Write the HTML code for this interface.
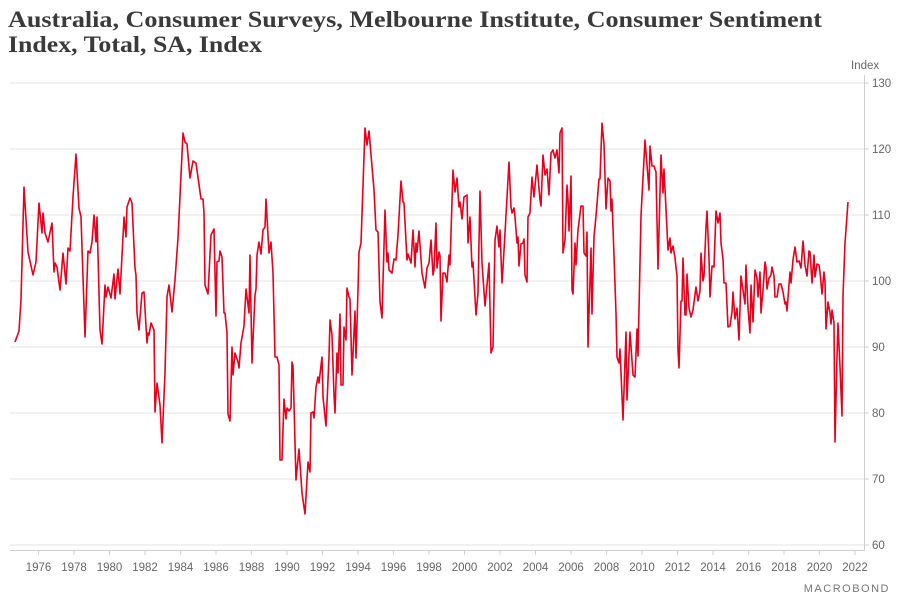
<!DOCTYPE html>
<html><head><meta charset="utf-8"><style>
html,body{margin:0;padding:0;background:#fff;}
svg{display:block;}
</style></head><body>
<svg width="899" height="603" xmlns="http://www.w3.org/2000/svg">
<text x="8" y="27" font-family="Liberation Serif, serif" font-weight="bold" font-size="23.5" fill="#3a3a3a" textLength="814" lengthAdjust="spacingAndGlyphs">Australia, Consumer Surveys, Melbourne Institute, Consumer Sentiment</text>
<text x="8" y="52" font-family="Liberation Serif, serif" font-weight="bold" font-size="23.5" fill="#3a3a3a" textLength="254" lengthAdjust="spacingAndGlyphs">Index, Total, SA, Index</text>
<g stroke="#e3e3e3" stroke-width="1">
<line x1="10" x2="864" y1="83" y2="83"/><line x1="10" x2="864" y1="149" y2="149"/><line x1="10" x2="864" y1="215" y2="215"/><line x1="10" x2="864" y1="281" y2="281"/><line x1="10" x2="864" y1="347" y2="347"/><line x1="10" x2="864" y1="413" y2="413"/><line x1="10" x2="864" y1="479" y2="479"/><line x1="10" x2="864" y1="545" y2="545"/>
</g>
<g stroke="#cfcfcf" stroke-width="1">
<line x1="864.5" x2="864.5" y1="75" y2="550"/>
<line x1="10" x2="865" y1="550.5" y2="550.5"/>
<line x1="864" x2="869" y1="83" y2="83"/><line x1="864" x2="869" y1="149" y2="149"/><line x1="864" x2="869" y1="215" y2="215"/><line x1="864" x2="869" y1="281" y2="281"/><line x1="864" x2="869" y1="347" y2="347"/><line x1="864" x2="869" y1="413" y2="413"/><line x1="864" x2="869" y1="479" y2="479"/><line x1="864" x2="869" y1="545" y2="545"/>
<line x1="38.5" x2="38.5" y1="550" y2="555"/><line x1="74" x2="74" y1="550" y2="555"/><line x1="109.5" x2="109.5" y1="550" y2="555"/><line x1="145" x2="145" y1="550" y2="555"/><line x1="180.5" x2="180.5" y1="550" y2="555"/><line x1="216" x2="216" y1="550" y2="555"/><line x1="251.5" x2="251.5" y1="550" y2="555"/><line x1="287" x2="287" y1="550" y2="555"/><line x1="322.5" x2="322.5" y1="550" y2="555"/><line x1="358" x2="358" y1="550" y2="555"/><line x1="393.5" x2="393.5" y1="550" y2="555"/><line x1="429" x2="429" y1="550" y2="555"/><line x1="464.5" x2="464.5" y1="550" y2="555"/><line x1="500" x2="500" y1="550" y2="555"/><line x1="535.5" x2="535.5" y1="550" y2="555"/><line x1="571" x2="571" y1="550" y2="555"/><line x1="606.5" x2="606.5" y1="550" y2="555"/><line x1="642" x2="642" y1="550" y2="555"/><line x1="677.5" x2="677.5" y1="550" y2="555"/><line x1="713" x2="713" y1="550" y2="555"/><line x1="748.5" x2="748.5" y1="550" y2="555"/><line x1="784" x2="784" y1="550" y2="555"/><line x1="819.5" x2="819.5" y1="550" y2="555"/><line x1="855" x2="855" y1="550" y2="555"/>
</g>
<g font-family="Liberation Sans, sans-serif" font-size="11.5" fill="#666">
<text x="851" y="69">Index</text>
<text x="872" y="87">130</text><text x="872" y="153">120</text><text x="872" y="219">110</text><text x="872" y="285">100</text><text x="872" y="351">90</text><text x="872" y="417">80</text><text x="872" y="483">70</text><text x="872" y="549">60</text>
</g>
<g font-family="Liberation Sans, sans-serif" font-size="11.5" fill="#666" text-anchor="middle">
<text x="38.5" y="571">1976</text><text x="74" y="571">1978</text><text x="109.5" y="571">1980</text><text x="145" y="571">1982</text><text x="180.5" y="571">1984</text><text x="216" y="571">1986</text><text x="251.5" y="571">1988</text><text x="287" y="571">1990</text><text x="322.5" y="571">1992</text><text x="358" y="571">1994</text><text x="393.5" y="571">1996</text><text x="429" y="571">1998</text><text x="464.5" y="571">2000</text><text x="500" y="571">2002</text><text x="535.5" y="571">2004</text><text x="571" y="571">2006</text><text x="606.5" y="571">2008</text><text x="642" y="571">2010</text><text x="677.5" y="571">2012</text><text x="713" y="571">2014</text><text x="748.5" y="571">2016</text><text x="784" y="571">2018</text><text x="819.5" y="571">2020</text><text x="855" y="571">2022</text>
</g>
<text x="890" y="592" text-anchor="end" font-family="Liberation Sans, sans-serif" font-size="11" letter-spacing="1.5" fill="#777">MACROBOND</text>
<polyline fill="none" stroke="#e8001c" stroke-width="1.6" stroke-linejoin="round" points="15,342 19,331 21,300 24,187 28,252 33,275 36,262 39,203 42,233 43,213 45,233 48,242 52,223 54,272 55,263 57,267 60,290 63,253 66,284 68,248 70,251 73,197 76,154 79,208 81,217 85,337 88,251 90,253 92,242 94,215 96,242 97,217 100,330 102,344 105,285 106,297 108,287 111,298 114,274 115,299 118,269 120,294 124,217 126,237 127,207 130,198 132,203 135,268 136,275 137,313 139,330 142,293 144,292 147,343 148,333 149,335 151,323 154,330 155,412 157,383 160,405 162,443 165,373 167,297 169,285 172,312 175,280 178,238 183,133 185,142 187,144 190,178 193,161 196,163 201,199 203,199 204,213 205,285 208,294 211,235 214,229 216,316 217,262 219,261 220,251 222,257 224,313 225,313 227,333 228,414 230,421 232,347 233,375 235,353 238,362 239,368 241,343 244,326 246,289 249,313 250,255 252,363 255,295 256,289 257,255 259,242 261,254 263,230 265,227 266,199 269,253 271,242 273,273 275,357 277,357 279,365 280,460 282,460 284,399 286,419 287,408 289,411 291,408 292,362 293,366 296,480 299,449 302,493 305,514 308,462 310,472 311,413 313,412 314,418 316,387 318,377 319,383 322,357 323,397 326,426 329,357 330,320 332,335 334,395 335,413 337,353 338,373 340,314 341,385 343,385 344,327 346,340 347,288 349,297 350,299 352,375 355,311 356,358 358,290 359,252 361,243 365,128 367,145 369,131 374,190 376,230 378,232 380,302 382,318 385,210 387,262 388,253 389,270 392,273 394,259 396,260 398,235 401,181 403,202 404,203 407,260 408,254 411,263 413,230 415,267 416,243 417,252 419,231 422,273 425,288 427,268 429,263 431,240 433,275 434,270 436,223 437,268 439,252 440,256 441,321 443,273 445,273 447,282 449,255 450,265 453,170 455,192 457,178 459,207 460,202 462,219 464,197 467,195 468,243 470,217 472,267 473,262 476,315 478,293 480,191 482,263 485,306 487,285 489,263 491,353 493,347 495,240 497,226 499,247 500,230 502,283 503,268 505,233 509,162 511,207 512,213 514,208 515,217 517,243 518,237 519,266 521,244 523,243 524,239 525,275 527,282 528,217 530,213 532,177 534,197 537,165 540,200 541,206 543,155 545,175 547,169 549,195 551,153 553,150 555,158 557,150 559,173 560,133 562,128 563,253 565,240 567,185 568,200 569,231 571,176 572,290 573,294 575,243 576,265 578,230 581,206 583,206 584,253 586,256 587,232 588,347 591,248 592,314 594,237 596,216 599,179 600,179 602,123 604,144 606,209 608,178 610,181 611,211 612,199 616,313 617,357 619,363 620,349 623,420 626,332 627,400 630,332 633,375 635,377 637,329 638,356 641,216 645,140 649,190 650,146 652,166 654,166 656,172 658,269 661,155 663,193 664,169 666,209 668,250 670,238 671,253 673,246 675,258 677,276 678,350 679,368 681,301 682,301 683,258 685,315 686,315 687,274 689,308 691,317 693,310 696,287 698,301 700,291 701,253 703,281 704,276 706,227 707,211 709,258 710,297 712,266 714,267 716,211 718,223 720,213 721,243 723,259 724,283 726,283 728,327 730,326 732,312 733,292 735,319 737,308 739,340 741,276 743,290 745,304 746,265 748,308 750,333 751,285 753,322 755,270 757,278 758,297 760,272 761,313 763,290 765,262 766,267 767,289 769,278 771,275 772,267 774,276 775,297 777,297 779,284 781,284 783,292 785,304 786,302 787,311 790,272 791,283 793,260 795,247 797,262 799,261 801,268 803,241 805,265 807,276 809,251 810,252 812,283 814,255 815,277 817,264 819,265 820,272 822,294 824,272 825,281 826,329 828,302 830,313 831,324 832,310 834,323 835,442 837,357 838,323 840,367 842,416 843,296 845,243 848,202"/>
</svg>
</body></html>
